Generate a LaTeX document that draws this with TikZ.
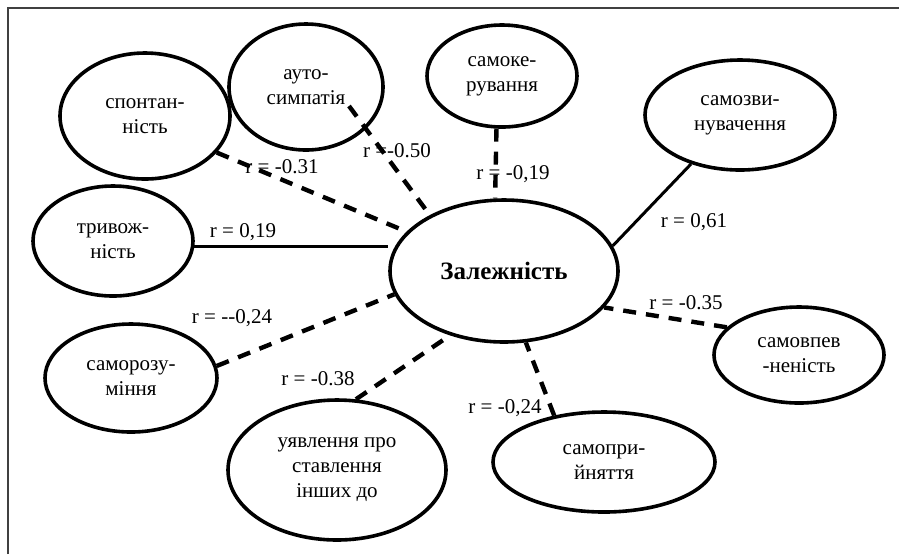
\documentclass[tikz,border=0pt]{standalone}
\usepackage{fontspec}
\setmainfont{Liberation Serif}
\usetikzlibrary{shapes.geometric}

\begin{document}
\begin{tikzpicture}[x=0.5pt, y=-0.5pt,
  ell/.style={draw, ellipse, line width=1.8pt, inner sep=0pt, align=center, font=\fontsize{10.5}{12.5}\selectfont},
  lbl/.style={inner sep=0pt, font=\fontsize{10.5}{12.5}\selectfont},
  dashln/.style={line width=2.2pt, dash pattern=on 6.5pt off 5pt},
  solidln/.style={line width=1.5pt}]

  \useasboundingbox (0,0) rectangle (899,554);

  % Frame
  \draw[black!75, line width=0.8pt] (8,554) -- (8,8) -- (899,8);

  % Centre
  \node[ell, minimum width=228pt/2, minimum height=142pt/2, font=\fontsize{12.5}{14}\selectfont\bfseries] (zal) at (504,271) {Залежність};

  % Upper nodes
  \node[ell, minimum width=85pt, minimum height=63pt] (spont) at (145,116) {спонтан-\\ність};
  \node[ell, minimum width=77pt, minimum height=63pt] (autosym) at (306,87) {ауто-\\симпатія};
  \node[ell, minimum width=75pt, minimum height=51pt] (samoker) at (502,76) {самоке-\\рування};
  \node[ell, minimum width=95pt, minimum height=55pt] (samozv) at (740,115) {самозви-\\нувачення};
  \node[ell, minimum width=80pt, minimum height=55pt] (tryv) at (113,241) {тривож-\\ність};

  % Lower nodes
  \node[ell, minimum width=86pt, minimum height=54pt] (samoroz) at (131,378) {саморозу-\\міння};
  \node[ell, minimum width=109pt, minimum height=70pt] (uyavl) at (337,470) {уявлення про\\ставлення\\інших до};
  \node[ell, minimum width=111pt, minimum height=50pt] (samopr) at (604,462) {самопри-\\йняття};
  \node[ell, minimum width=85pt, minimum height=48pt] (samovp) at (799,355) {самовпев\\-неність};

  % Connections
  \draw[dashln] (spont.-27) -- (zal.158);
  \draw[dashln] ([shift={(43,19)}]autosym.center) -- (zal.143);
  \draw[dashln] (samoker.-96) -- (zal.97);
  \draw[solidln] (samozv.-135) -- (zal.13);
  \draw[solidln] (tryv.-4) -- (tryv.-4 -| zal.west);
  \draw[dashln] (samoroz.8) -- (zal.192);
  \draw[dashln] (uyavl.75) -- (zal.230);
  \draw[dashln] (samopr.137) -- (zal.-73);
  \draw[dashln] (samovp.159) -- (zal.-20);

  % Coefficients
  \node[lbl] (r1) at (282,167) {r = -0.31};
  \node[lbl] (r2) at (397,151) {r =-0.50};
  \node[lbl] (r3) at (513,174) {r = -0,19};
  \node[lbl] (r4) at (694,222) {r = 0,61};
  \node[lbl] (r5) at (243,232) {r = 0,19};
  \node[lbl] (r6) at (232,318) {r = -{}-0,24};
  \node[lbl] (r7) at (318,379) {r = -0.38};
  \node[lbl] (r8) at (505,408) {r = -0,24};
  \node[lbl] (r9) at (686,303) {r = -0.35};

\end{tikzpicture}
\end{document}
